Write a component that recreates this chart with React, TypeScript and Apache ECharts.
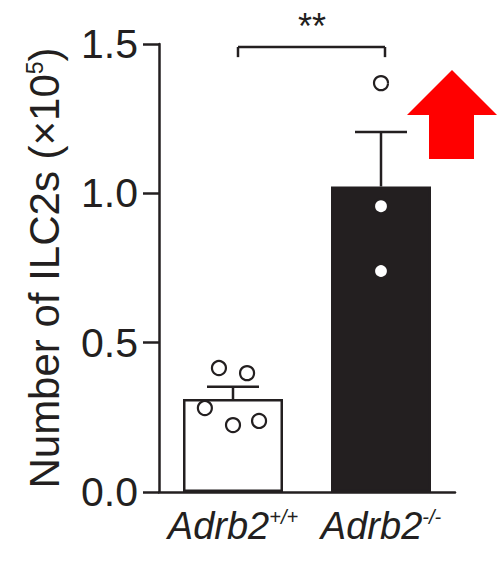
import React, { useEffect, useRef } from "react";
import * as echarts from "echarts";

const categories = ["Adrb2+/+", "Adrb2-/-"];
const labelMain = ["Adrb2", "Adrb2"];
const labelSup = ["+/+", "-/-"];
const means = [0.311, 1.023];
const errTop = [0.352, 1.205];
const barFill = ["#ffffff", "#231f20"];
const pointsWT = [0.415, 0.398, 0.281, 0.224, 0.238];
const jitterWT = [-0.095, 0.095, -0.19, 0.0, 0.176];
const pointsKO = [1.369, 0.957, 0.74];
const jitterKO = [0.0, 0.0, 0.0];
const yTicks = [0, 0.5, 1.0, 1.5];
const sigLabel = "**";
const sigTop = 1.49;
const sigLeg = 1.456;

const INK = "#231f20";
const FONT = "'Liberation Sans', Arial, Helvetica, sans-serif";

export default function App() {
  const ref = useRef<HTMLDivElement>(null);
  useEffect(() => {
    if (!ref.current) return;
    const chart = echarts.init(ref.current, null, { renderer: "svg" });
    const scatterData: number[][] = [];
    pointsWT.forEach((v, i) => scatterData.push([0 + jitterWT[i], v]));
    pointsKO.forEach((v, i) => scatterData.push([1 + jitterKO[i], v]));
    const option: any = {
      animation: false,
      backgroundColor: "#ffffff",
      grid: { left: 159, top: 44, width: 296, bottom: 70, containLabel: false },
      xAxis: [
        {
          type: "category",
          data: categories,
          axisLine: { onZero: false, lineStyle: { color: INK, width: 2.5 } },
          axisTick: { show: false },
          axisLabel: {
            margin: 15,
            formatter: (_v: string, i: number) => `{a|${labelMain[i]}}{s|${labelSup[i]}}`,
            rich: {
              a: { fontSize: 38, fontStyle: "italic", fontFamily: FONT, color: INK },
              s: { fontSize: 20, fontStyle: "italic", fontFamily: FONT, color: INK, verticalAlign: "top" },
            },
          },
        },
        { type: "value", min: -0.5, max: 1.5, show: false, axisLine: { onZero: false } },
      ],
      yAxis: {
        type: "value",
        min: 0,
        max: 1.5,
        interval: 0.5,
        axisLine: { show: true, onZero: false, lineStyle: { color: INK, width: 2.5 } },
        axisTick: { show: true, length: 16, lineStyle: { color: INK, width: 2.5 } },
        splitLine: { show: false },
        axisLabel: {
          margin: 21,
          fontSize: 41,
          fontFamily: FONT,
          color: INK,
          formatter: (v: number) => (yTicks.includes(v) ? v.toFixed(1) : ""),
        },
        name: "{a|Number of ILC2s (×10}{s|5}{a|)}",
        nameLocation: "middle",
        nameRotate: 90,
        nameGap: 94,
        nameTextStyle: {
          rich: {
            a: { fontSize: 42, fontFamily: FONT, color: INK },
            s: { fontSize: 23, fontFamily: FONT, color: INK, verticalAlign: "top" },
          },
        },
      },
      series: [
        {
          type: "bar",
          barWidth: 100,
          data: means.map((m, i) => ({
            value: m,
            itemStyle: { color: barFill[i], borderColor: INK, borderWidth: 2.5 },
          })),
          z: 2,
        },
        {
          type: "custom",
          z: 3,
          data: means.map((m, i) => [i, m]),
          renderItem: (params: any, api: any) => {
            const i = params.dataIndex;
            const base = api.coord([i, means[i]]);
            const top = api.coord([i, errTop[i]]);
            const half = 26;
            const style = { stroke: INK, lineWidth: 2.5 };
            return {
              type: "group",
              children: [
                { type: "line", shape: { x1: base[0], y1: base[1], x2: top[0], y2: top[1] }, style },
                { type: "line", shape: { x1: top[0] - half, y1: top[1], x2: top[0] + half, y2: top[1] }, style },
              ],
            };
          },
        },
        {
          type: "scatter",
          xAxisIndex: 1,
          z: 4,
          symbol: "circle",
          symbolSize: 14,
          itemStyle: { color: "#ffffff", borderColor: INK, borderWidth: 2.2, opacity: 1 },
          data: scatterData,
        },
        {
          type: "custom",
          z: 5,
          data: [[0, sigTop]],
          renderItem: (_params: any, api: any) => {
            const l = api.coord([0, sigTop]);
            const r = api.coord([1, sigTop]);
            const lb = api.coord([0, sigLeg]);
            const dx = 5;
            const style = { stroke: INK, lineWidth: 2.5, fill: null };
            return {
              type: "group",
              children: [
                { type: "line", shape: { x1: l[0] + dx, y1: lb[1], x2: l[0] + dx, y2: l[1] }, style },
                { type: "line", shape: { x1: l[0] + dx, y1: l[1], x2: r[0] + dx - 1, y2: r[1] }, style },
                { type: "line", shape: { x1: r[0] + dx - 1, y1: r[1], x2: r[0] + dx - 1, y2: lb[1] }, style },
                {
                  type: "text",
                  x: (l[0] + r[0]) / 2 + dx,
                  y: l[1] - 20,
                  style: {
                    text: sigLabel,
                    fontSize: 36,
                    fontFamily: FONT,
                    fill: INK,
                    align: "center",
                    verticalAlign: "middle",
                  },
                },
              ],
            };
          },
        },
      ],
      graphic: [
        {
          type: "polygon",
          shape: {
            points: [
              [452, 70],
              [497, 115],
              [474, 115],
              [474, 159],
              [429, 159],
              [429, 115],
              [407, 115],
            ],
          },
          style: { fill: "#ff0000" },
        },
      ],
    };
    chart.setOption(option);
    return () => chart.dispose();
  }, []);
  return (
    <div
      ref={ref}
      style={{ position: "fixed", left: 0, top: 0, width: 501, height: 562, background: "#fff" }}
    />
  );
}
